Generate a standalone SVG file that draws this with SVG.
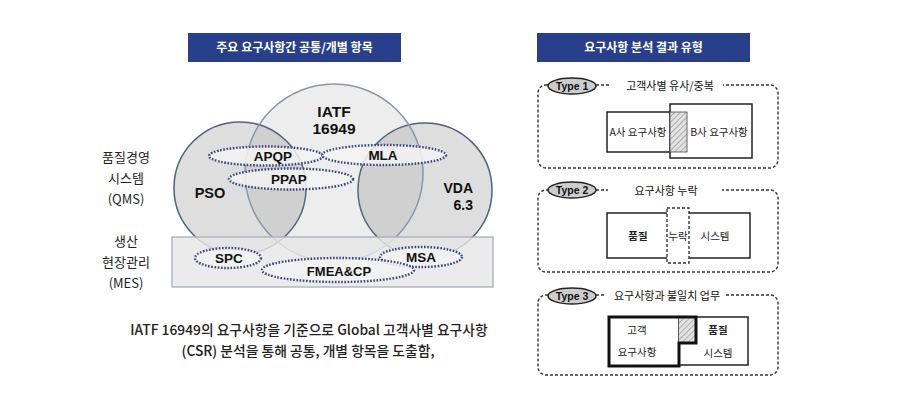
<svg xmlns="http://www.w3.org/2000/svg" width="898" height="412" viewBox="0 0 898 412">
<style>
.hdr{fill:#283f8c}
.hdrt{font-family:"Noto Sans CJK KR","Noto Sans",sans-serif;font-size:12px;font-weight:bold;fill:#fff;text-anchor:middle}
.kr{font-family:"Noto Sans CJK KR","Noto Sans",sans-serif;fill:#222;text-anchor:middle}
.vl{font-family:"Liberation Sans",Arial,sans-serif;font-weight:bold;fill:#111;text-anchor:middle}
.dot{fill:#f3f3f3;fill-opacity:0.85;stroke:#34467a;stroke-width:2.4;stroke-dasharray:1.6 1.6}
.side{fill:#808080;fill-opacity:0.26;stroke:#52627e;stroke-width:1.5}
.mid{fill:#808080;fill-opacity:0.14;stroke:#8a96a8;stroke-width:1.5}
.frame{fill:none;stroke:#333;stroke-width:1.4;stroke-dasharray:3 2}
.tag{fill:#cdcdcd;stroke:#222;stroke-width:1.5}
.tagt{font-family:"Liberation Sans",Arial,sans-serif;font-weight:900;font-size:10.5px;fill:#111;text-anchor:middle}
.box{fill:#fff;stroke:#222;stroke-width:1.5}
.bt{font-family:"Noto Sans CJK KR","Noto Sans",sans-serif;font-size:10.5px;fill:#222;text-anchor:middle}
.tt{font-family:"Noto Sans CJK KR","Noto Sans",sans-serif;font-size:11px;fill:#111;text-anchor:middle}
</style>
<defs>
<pattern id="hatch" width="4" height="4" patternUnits="userSpaceOnUse" patternTransform="rotate(45)">
<rect width="4" height="4" fill="#e2e2e2"/>
<line x1="0" y1="0" x2="0" y2="4" stroke="#8a8a8a" stroke-width="1.2"/>
</pattern>
</defs>
<rect width="898" height="412" fill="#fff"/>

<g id="header-left">
<rect class="hdr" x="188" y="33" width="213" height="29"/>
<text class="hdrt" x="294.5" y="52">주요 요구사항간 공통/개별 항목</text>
</g>
<g id="header-right">
<rect class="hdr" x="537" y="33" width="213" height="29"/>
<text class="hdrt" x="643.5" y="52">요구사항 분석 결과 유형</text>
</g>

<g id="side-labels">
<text class="kr" font-size="13" x="126" y="162">품질경영</text>
<text class="kr" font-size="13" x="126" y="183">시스템</text>
<text class="kr" font-size="13" x="126" y="204">(QMS)</text>
<text class="kr" font-size="13" x="126" y="246">생산</text>
<text class="kr" font-size="13" x="126" y="267">현장관리</text>
<text class="kr" font-size="13" x="126" y="288">(MES)</text>
</g>

<g id="circles">
<circle id="pso" class="side" cx="240" cy="188" r="66"/>
<circle id="vda" class="side" cx="425" cy="190" r="67"/>
<circle id="iatf" class="mid" cx="334" cy="173" r="89"/>
</g>
<g id="mes-band">
<rect x="172" y="237" width="321" height="50" fill="#e6e6e6" fill-opacity="0.82" stroke="#a8b0bc" stroke-width="1.3"/>
</g>

<g id="circle-labels">
<text class="vl" font-size="15.5" x="334" y="117">IATF</text>
<text class="vl" font-size="15.5" x="334" y="134">16949</text>
<text class="vl" font-size="14.5" x="210" y="198">PSO</text>
<text class="vl" font-size="14" x="473" y="193" style="text-anchor:end">VDA</text>
<text class="vl" font-size="14" x="473" y="210" style="text-anchor:end">6.3</text>
</g>

<g id="apqp"><ellipse class="dot" cx="266" cy="156" rx="57" ry="9.5"/><text class="vl" font-size="13.5" x="273" y="161">APQP</text></g>
<g id="mla"><ellipse class="dot" cx="384" cy="155" rx="62" ry="10"/><text class="vl" font-size="13.5" x="383" y="160">MLA</text></g>
<g id="ppap"><ellipse class="dot" cx="291" cy="179" rx="62" ry="10.5"/><text class="vl" font-size="13.5" x="289" y="184">PPAP</text></g>
<g id="spc"><ellipse class="dot" cx="228" cy="258" rx="33" ry="10"/><text class="vl" font-size="13.5" x="229" y="263">SPC</text></g>
<g id="msa"><ellipse class="dot" cx="421" cy="257" rx="41" ry="10"/><text class="vl" font-size="13.5" x="421" y="262">MSA</text></g>
<g id="fmea"><ellipse class="dot" cx="338" cy="270" rx="76" ry="12"/><text class="vl" font-size="13" x="339" y="276">FMEA&amp;CP</text></g>

<g id="caption">
<text class="kr" font-size="13.8" font-weight="500" x="309" y="335">IATF 16949의 요구사항을 기준으로 Global 고객사별 요구사항</text>
<text class="kr" font-size="13.8" font-weight="500" x="308" y="356">(CSR) 분석을 통해 공통, 개별 항목을 도출함,</text>
</g>

<g id="type1">
<rect class="frame" x="538" y="85" width="240" height="83" rx="8"/>
<rect x="609" y="78" width="114" height="14" fill="#fff"/>
<ellipse class="tag" cx="572" cy="86" rx="24" ry="8"/>
<text class="tagt" x="572" y="90">Type 1</text>
<text class="tt" x="670" y="90">고객사별 유사/중복</text>
<rect class="box" x="607" y="112" width="80" height="40"/>
<rect class="box" x="670" y="104" width="82" height="54"/>
<rect x="670" y="112" width="17" height="40" fill="url(#hatch)" stroke="#444" stroke-width="0.8"/>
<text class="bt" x="638" y="136">A사 요구사항</text>
<text class="bt" x="719" y="136">B사 요구사항</text>
</g>

<g id="type2">
<rect class="frame" x="538" y="190" width="240" height="82" rx="8"/>
<rect x="608" y="183" width="114" height="14" fill="#fff"/>
<ellipse class="tag" cx="572" cy="190" rx="24" ry="8"/>
<text class="tagt" x="572" y="194">Type 2</text>
<text class="tt" x="666" y="195">요구사항 누락</text>
<rect class="box" x="607" y="213" width="61" height="45"/>
<rect class="box" x="688" y="213" width="62" height="45"/>
<rect x="667" y="208" width="22" height="55" fill="#fff" stroke="#333" stroke-width="1.4" stroke-dasharray="3 2"/>
<text class="bt" x="638" y="240" font-weight="bold">품질</text>
<text class="bt" x="678" y="240">누락</text>
<text class="bt" x="715" y="240">시스템</text>
</g>

<g id="type3">
<rect class="frame" x="538" y="295" width="240" height="80" rx="8"/>
<rect x="606" y="288" width="120" height="14" fill="#fff"/>
<ellipse class="tag" cx="572" cy="296" rx="24" ry="8"/>
<text class="tagt" x="572" y="300">Type 3</text>
<text class="tt" x="667" y="300">요구사항과 불일치 업무</text>
<rect class="box" x="679" y="317" width="69" height="48"/>
<rect x="679" y="317" width="17" height="26" fill="url(#hatch)"/>
<polygon points="609,317 696,317 696,343 679,343 679,366 609,366" fill="none" stroke="#111" stroke-width="3"/>
<text class="bt" x="637" y="334">고객</text>
<text class="bt" x="637" y="356">요구사항</text>
<text class="bt" x="718" y="334" font-weight="bold">품질</text>
<text class="bt" x="718" y="357">시스템</text>
</g>
</svg>
